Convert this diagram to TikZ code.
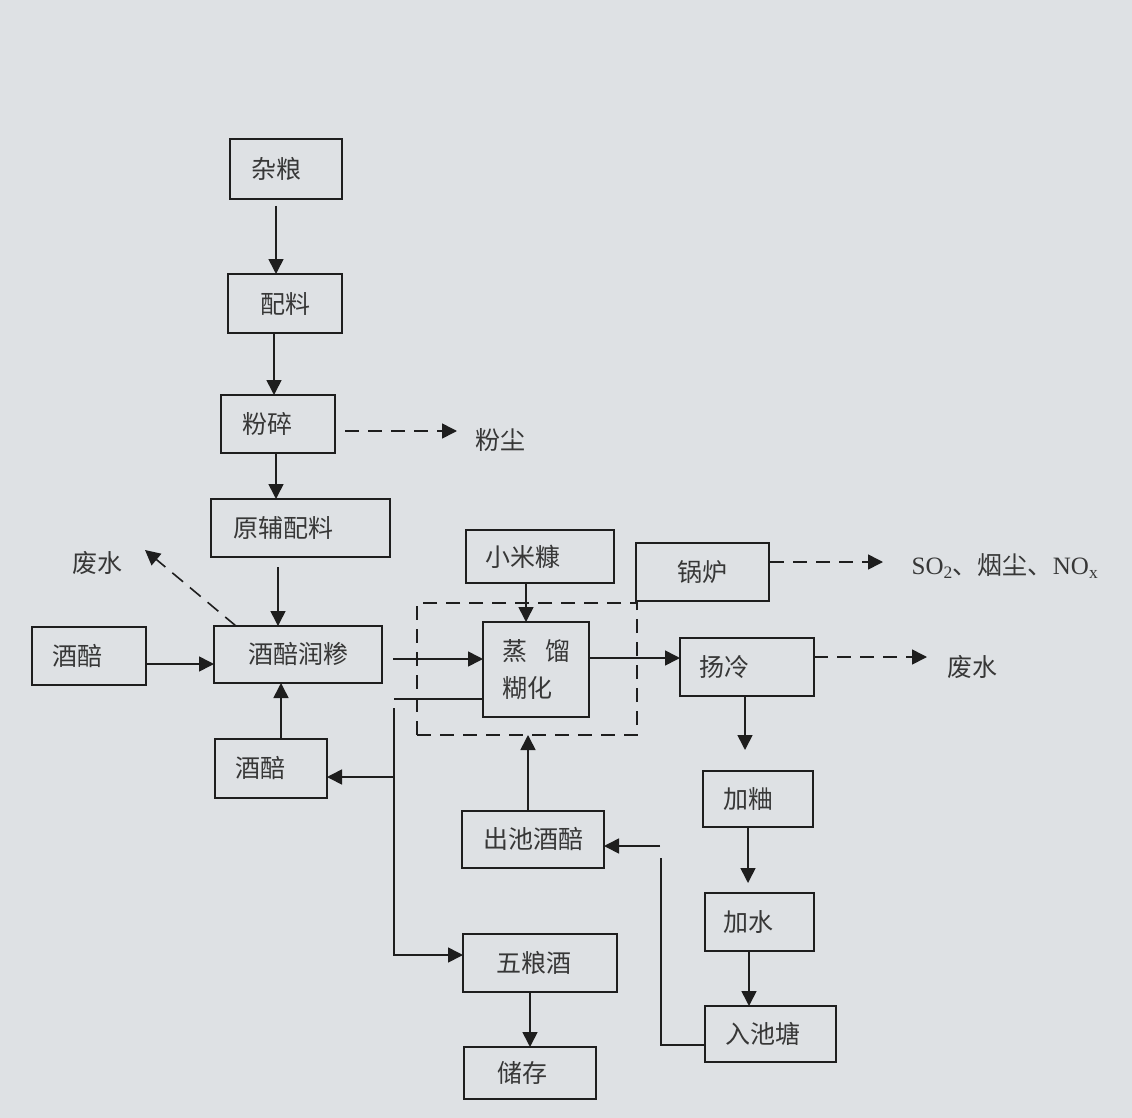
\documentclass[tikz,border=0pt]{standalone}
\usepackage{fontspec}
\setmainfont{Liberation Serif}
\newfontfamily\cjk{Noto Sans CJK SC}
\usetikzlibrary{arrows.meta,calc}
\definecolor{bg}{RGB}{222,225,228}
\definecolor{ln}{RGB}{30,30,30}
\definecolor{tx}{RGB}{55,55,55}
\newcommand\lsh[2]{\hspace*{-#1}#2}
\begin{document}
\begin{tikzpicture}[x=1pt,y=-1pt,
  box/.style={draw=ln, line width=1.6pt, inner sep=0pt, outer sep=0pt, text=tx,
    font=\cjk\fontsize{25}{37}\selectfont},
  dbox/.style={draw=ln, line width=1.6pt, dash pattern=on 14pt off 9pt, inner sep=0pt, outer sep=0pt},
  lbl/.style={text=tx, inner sep=0pt, font=\cjk\fontsize{25}{30}\selectfont},
  flow/.style={draw=ln, line width=1.6pt, -{Triangle[length=15pt,width=15pt]}},
  link/.style={draw=ln, line width=1.6pt},
  dashflow/.style={flow, dash pattern=on 14pt off 9pt},
]
\fill[bg] (0,0) rectangle (1132,1118);
\useasboundingbox (0,0) rectangle (1132,1118);

% boxes
\node[box, minimum width=112pt, minimum height=60pt] (zl)  at (286,169)   {\lsh{20pt}{杂粮}};
\node[box, minimum width=114pt, minimum height=59pt] (pl)  at (285,303.5) {配料};
\node[box, minimum width=114pt, minimum height=58pt] (fs)  at (278,424)   {\lsh{22pt}{粉碎}};
\node[box, minimum width=179pt, minimum height=58pt] (yf)  at (300.5,528) {\lsh{34pt}{原辅配料}};
\node[box, minimum width=114pt, minimum height=58pt] (jpL) at (89,656)    {\lsh{24pt}{酒醅}};
\node[box, minimum width=168pt, minimum height=57pt] (rs)  at (298,654.5) {酒醅润糁};
\node[box, minimum width=112pt, minimum height=59pt] (jpB) at (271,768.5) {\lsh{22pt}{酒醅}};
\node[dbox, minimum width=220pt, minimum height=132pt] (dr) at (527,669) {};
\node[box, minimum width=106pt, minimum height=95pt, align=left] (zlh) at (536,669.5) {蒸\hspace{18pt}馏\\糊化};
\node[box, minimum width=148pt, minimum height=53pt] (xmk) at (540,556.5) {\lsh{34pt}{小米糠}};
\node[box, minimum width=133pt, minimum height=58pt] (gl)  at (702.5,572) {锅炉};
\node[box, minimum width=134pt, minimum height=58pt] (yl)  at (747,667)   {\lsh{46pt}{扬冷}};
\node[box, minimum width=110pt, minimum height=56pt] (jq)  at (758,799)   {\lsh{20pt}{加粬}};
\node[box, minimum width=109pt, minimum height=58pt] (js)  at (759.5,922) {\lsh{22pt}{加水}};
\node[box, minimum width=131pt, minimum height=56pt] (rc)  at (770.5,1034) {\lsh{16pt}{入池塘}};
\node[box, minimum width=142pt, minimum height=57pt] (cc)  at (533,839.5) {出池酒醅};
\node[box, minimum width=154pt, minimum height=58pt] (wl)  at (540,963)   {\lsh{12pt}{五粮酒}};
\node[box, minimum width=132pt, minimum height=52pt] (cq)  at (530,1073)  {\lsh{16pt}{储存}};

% free labels
\node[lbl] (fc)  at (500,440) {粉尘};
\node[lbl] (wsL) at (97,563)  {废水};
\node[lbl] (wsR) at (972,667) {废水};
\node[text=tx, inner sep=0pt, font=\rmfamily\fontsize{25}{30}\selectfont] (so) at (1005,566)
  {SO\textsubscript{2}{\cjk 、烟尘、}NO\textsubscript{x}};

% free ends and kink points
\coordinate (fcA) at (457,431);
\coordinate (wsA) at (145,550);
\coordinate (soA) at (883,562);
\coordinate (wrA) at (927,657);
\coordinate (h1)  at (394,777);
\coordinate (v1)  at (394,708);
\coordinate (v2)  at (394,955);
\coordinate (c1)  at (394,699);
\coordinate (r1)  at (661,858);
\coordinate (r2)  at (660,846);
\coordinate (ccT) at ($(cc.north)+(-5,0)$);

% main chain
\draw[flow] ($(zl.south)+(-10,7)$) -- ($(pl.north)+(-9,0)$);
\draw[flow] ($(pl.south)+(-11,0)$) -- ($(fs.north)+(-4,0)$);
\draw[flow] ($(fs.south)+(-2,0)$) -- ($(yf.north)+(-24.5,0)$);
\draw[flow] ($(yf.south)+(-22.5,10)$) -- ($(rs.north)+(-20,0)$);
\draw[dashflow] ($(fs.east)+(10,7)$) -- (fcA);
\draw[dashflow] ($(rs.north west)+(22,0)$) -- (wsA);
\draw[flow] ($(jpL.east)+(0,8)$) -- ($(rs.west)+(0,9.5)$);
\draw[flow] ($(jpB.north)+(10,0)$) -- ($(rs.south)+(-17,0)$);
\draw[flow] ($(rs.east)+(11,4.5)$) -- ($(zlh.west)+(0,-10.5)$);
\draw[link] (c1) -- (c1 -| zlh.west);
\draw[flow] (h1) -- (h1 -| jpB.east);
\draw[flow] (v1) -- (v2) -- (v2 -| wl.west);
\draw[flow] ($(xmk.south)+(-14,0)$) -- ($(zlh.north)+(-10,0)$);
\draw[flow] ($(zlh.east)+(0,-11.5)$) -- ($(yl.west)+(0,-9)$);
\draw[dashflow] ($(gl.east)+(1,-10)$) -- (soA);
\draw[dashflow] ($(yl.east)+(0,-10)$) -- (wrA);
\draw[flow] ($(yl.south)+(-2,0)$) -- ($(jq.north)+(-13,-21)$);
\draw[flow] ($(jq.south)+(-10,0)$) -- ($(js.north)+(-11.5,-10)$);
\draw[flow] ($(js.south)+(-10.5,0)$) -- ($(rc.north)+(-21.5,0)$);
\draw[link] ($(rc.west)+(0,11)$) -| (r1);
\draw[flow] (r2) -- (r2 -| cc.east);
\draw[flow] (ccT) -- (ccT |- dr.south);
\draw[flow] ($(wl.south)+(-10,0)$) -- (cq.north);
\end{tikzpicture}
\end{document}
